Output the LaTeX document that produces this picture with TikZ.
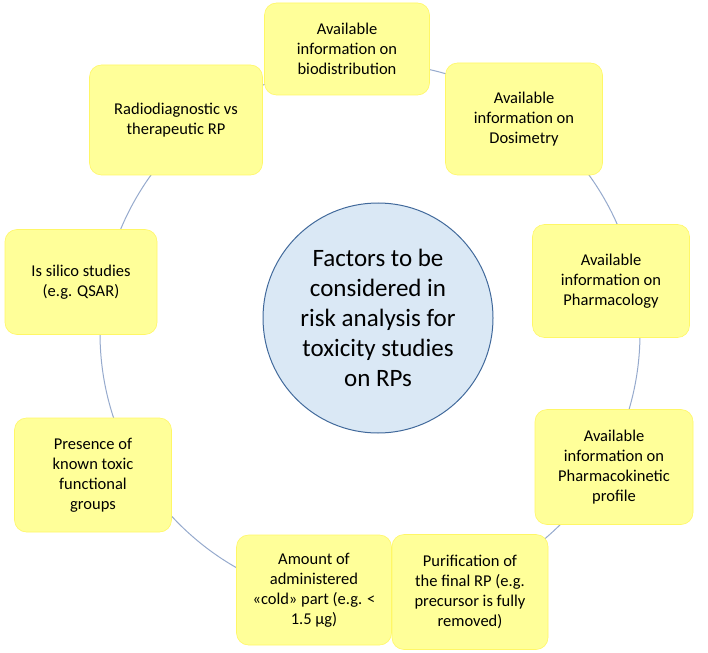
\documentclass[tikz,border=0pt]{standalone}
\usepackage{fontspec}
\setmainfont{Carlito}
\begin{document}
\begin{tikzpicture}[x=1pt,y=-1pt,
  box/.style={draw=yellow!60!white, line width=0.6pt, fill={rgb,255:red,255;green,255;blue,153}, rounded corners=12pt, align=center, font=\fontsize{16.5}{20}\selectfont, inner sep=2pt},
  ring/.style={draw={rgb,255:red,150;green,170;blue,205}, line width=1pt}]
\useasboundingbox (0,0) rectangle (708,652);
\coordinate (rc) at (370,333);
\draw[ring] (rc) circle[radius=270];
\node[circle, draw={rgb,255:red,65;green,105;blue,155}, line width=1pt, fill={rgb,255:red,218;green,232;blue,245}, minimum size=230pt, align=center, font=\fontsize{25}{30}\selectfont] (c) at (378,318) {Factors to be\\considered in\\risk analysis for\\toxicity studies\\on RPs};
\newcommand{\bx}[6]{\node[box, minimum width=#4pt, minimum height=#5pt] (#1) at (#2,#3) {#6};}
\bx{b1}{347}{49}{165}{92}{Available\\information on\\biodistribution}
\bx{b2}{524}{119}{157}{112}{Available\\information on\\Dosimetry}
\bx{b3}{611}{281}{157}{113}{Available\\information on\\Pharmacology}
\bx{b4}{614}{467}{158}{115}{Available\\information on\\Pharmacokinetic\\profile}
\bx{b5}{470}{592}{156}{115}{Purification of\\the final RP (e.g.\\precursor is fully\\removed)}
\bx{b6}{314}{590}{155}{110}{Amount of\\administered\\«cold» part (e.g. <\\1.5 μg)}
\bx{b7}{93}{475}{157}{114}{Presence of\\known toxic\\functional\\groups}
\bx{b8}{81}{282}{152}{105}{Is silico studies\\(e.g. QSAR)}
\bx{b9}{176}{120}{173}{110}{Radiodiagnostic vs\\therapeutic RP}
\end{tikzpicture}
\end{document}
